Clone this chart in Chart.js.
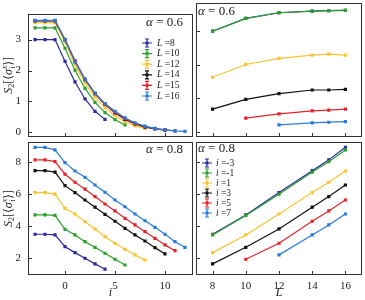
<!DOCTYPE html>
<html>
<head>
<meta charset="utf-8">
<script src="https://cdn.jsdelivr.net/npm/chart.js@4.4.1/dist/chart.umd.min.js"></script>
<style>
  body { margin: 0; background: #fff; }
  .wrap { position: relative; width: 365px; height: 300px; }
  .wrap canvas { position: absolute; left: 0; top: 0; }
</style>
</head>
<body>
<div class="wrap">
  <canvas id="tl" width="365" height="300"></canvas>
  <canvas id="tr" width="365" height="300"></canvas>
  <canvas id="bl" width="365" height="300"></canvas>
  <canvas id="br" width="365" height="300"></canvas>
</div>
<script>
// site index i and system sizes L
const siteIdx = [-3, -2, -1, 0, 1, 2, 3, 4, 5, 6, 7, 8, 9, 10, 11, 12];
const sysSizes = [8, 10, 12, 14, 15, 16];
const sitesShown = [-3, -1, 1, 3, 5, 7];

const sizeLabels = ['8', '10', '12', '14', '15', '16'];
const siteLabels = ['-3', '-1', '1', '3', '5', '7'];

// tick values
const iTicks = [0, 5, 10];
const lTicks = [8, 10, 12, 14, 16];
const yTicksTop = [0, 1, 2, 3];
const yTicksBottom = [2, 4, 6, 8];

// alpha = 0.6, S2 vs i, one array per L
const a06_L8  = [3.00, 3.00, 3.00, 2.30, 1.63, 1.08, 0.68, 0.42];
const a06_L10 = [3.38, 3.38, 3.38, 2.72, 2.01, 1.42, 0.97, 0.64, 0.41, 0.24];
const a06_L12 = [3.55, 3.55, 3.55, 2.92, 2.19, 1.60, 1.14, 0.80, 0.54, 0.34, 0.21, 0.13];
const a06_L14 = [3.60, 3.60, 3.60, 3.00, 2.29, 1.70, 1.25, 0.90, 0.63, 0.42, 0.27, 0.17, 0.11, 0.07];
const a06_L15 = [3.61, 3.61, 3.61, 3.00, 2.32, 1.72, 1.25, 0.91, 0.65, 0.44, 0.29, 0.19, 0.12, 0.08, 0.05];
const a06_L16 = [3.62, 3.62, 3.62, 3.00, 2.29, 1.72, 1.27, 0.93, 0.68, 0.47, 0.31, 0.20, 0.13, 0.08, 0.05, 0.03];

// alpha = 0.6, S2 vs L, one array per i
const a06_im3 = [3.00, 3.38, 3.55, 3.60, 3.61, 3.62];
const a06_im1 = [3.00, 3.38, 3.55, 3.60, 3.61, 3.62];
const a06_i1  = [1.63, 2.01, 2.19, 2.29, 2.32, 2.29];
const a06_i3  = [0.68, 0.97, 1.14, 1.25, 1.25, 1.27];
const a06_i5  = [null, 0.41, 0.54, 0.63, 0.65, 0.68];
const a06_i7  = [null, null, 0.21, 0.27, 0.29, 0.31];

// alpha = 0.8, S2 vs i, one array per L
const a08_L8  = [3.49, 3.49, 3.45, 2.72, 2.35, 2.00, 1.65, 1.32];
const a08_L10 = [4.69, 4.69, 4.66, 3.80, 3.45, 3.03, 2.68, 2.31, 1.94, 1.58];
const a08_L12 = [6.08, 6.08, 5.98, 5.10, 4.75, 4.27, 3.82, 3.34, 2.93, 2.56, 2.21, 1.89];
const a08_L14 = [7.44, 7.44, 7.35, 6.51, 6.08, 5.62, 5.17, 4.73, 4.30, 3.86, 3.45, 3.07, 2.66, 2.27];
const a08_L15 = [8.11, 8.11, 8.00, 7.22, 6.72, 6.29, 5.83, 5.37, 4.94, 4.48, 4.07, 3.65, 3.24, 2.83, 2.47];
const a08_L16 = [8.89, 8.89, 8.73, 7.94, 7.42, 7.03, 6.55, 6.10, 5.62, 5.20, 4.75, 4.33, 3.92, 3.49, 3.03, 2.68];

// alpha = 0.8, S2 vs L, one array per i
const a08_im3 = [3.49, 4.69, 6.08, 7.44, 8.11, 8.89];
const a08_im1 = [3.45, 4.66, 5.98, 7.35, 8.00, 8.73];
const a08_i1  = [2.35, 3.45, 4.75, 6.08, 6.72, 7.42];
const a08_i3  = [1.65, 2.68, 3.82, 5.17, 5.83, 6.55];
const a08_i5  = [null, 1.94, 2.93, 4.30, 4.94, 5.62];
const a08_i7  = [null, null, 2.21, 3.45, 4.07, 4.75];

const colors = ['#2b2b9f', '#2ca02c', '#f7c531', '#111111', '#e3242b', '#2b7bd9'];
const SERIF = '"Liberation Serif", "DejaVu Serif", serif';

function toPoints(xs, ys) {
    return ys.map((y, k) => ({ x: xs[k], y: y })).filter(p => p.y !== null);
}

// italic symbol followed by upright rest
function drawMathText(ctx, sym, rest, x, y, size, align) {
    ctx.font = `italic ${size}px ${SERIF}`;
    const w1 = ctx.measureText(sym).width;
    ctx.font = `${size}px ${SERIF}`;
    const w2 = ctx.measureText(rest).width;
    const x0 = align === 'right' ? x - w1 - w2 : x;
    ctx.textBaseline = 'middle';
    ctx.textAlign = 'left';
    ctx.font = `italic ${size}px ${SERIF}`;
    ctx.fillText(sym, x0, y);
    ctx.font = `${size}px ${SERIF}`;
    ctx.fillText(rest, x0 + w1, y);
}

function drawYLabel(ctx, cx, cy) {
    const big = 12, small = 8;
    const parts = [
        { t: 'S', f: `italic ${big}px ${SERIF}`, dy: 0 },
        { t: '2', f: `${small}px ${SERIF}`, dy: 3 },
        { t: '[\u27E8', f: `${big}px ${SERIF}`, dy: 0 },
        { t: '\u03C3', f: `italic ${big}px ${SERIF}`, dy: 0 },
        { t: 'x', f: `italic ${small}px ${SERIF}`, dy: -4, stack: 'i' },
        { t: '\u27E9]', f: `${big}px ${SERIF}`, dy: 0 }
    ];
    let total = 0;
    parts.forEach(p => { ctx.font = p.f; p.w = ctx.measureText(p.t).width; total += p.w; });
    ctx.save();
    ctx.translate(cx, cy);
    ctx.rotate(-Math.PI / 2);
    ctx.fillStyle = '#222';
    ctx.textBaseline = 'middle';
    ctx.textAlign = 'left';
    let x = -total / 2;
    parts.forEach(p => {
        ctx.font = p.f;
        ctx.fillText(p.t, x, p.dy);
        if (p.stack) ctx.fillText(p.stack, x + 0.5, 4);
        x += p.w;
    });
    ctx.restore();
}

function panelPlugin(opts) {
    return {
        id: 'panel',
        afterDraw(chart) {
            const ctx = chart.ctx;
            const a = chart.chartArea;
            const xs = chart.scales.x, ys = chart.scales.y;
            ctx.save();
            ctx.strokeStyle = '#333';
            ctx.lineWidth = 1;
            ctx.strokeRect(Math.round(a.left) + 0.5, Math.round(a.top) + 0.5,
                Math.round(a.right - a.left) - 1, Math.round(a.bottom - a.top) - 1);
            // inward ticks
            ctx.beginPath();
            xs.ticks.forEach(t => {
                const px = Math.round(xs.getPixelForValue(t.value)) + 0.5;
                ctx.moveTo(px, a.bottom);
                ctx.lineTo(px, a.bottom - 4);
            });
            ys.ticks.forEach(t => {
                const py = Math.round(ys.getPixelForValue(t.value)) + 0.5;
                ctx.moveTo(a.left, py);
                ctx.lineTo(a.left + 4, py);
            });
            ctx.stroke();

            ctx.fillStyle = '#222';
            if (opts.alphaRight) drawMathText(ctx, '\u03B1', ' = ' + opts.alpha, a.right - 10, a.top + opts.alphaDy, 13, 'right');
            else drawMathText(ctx, '\u03B1', ' = ' + opts.alpha, a.left + 2, a.top + opts.alphaDy, 13, 'left');

            if (opts.ylabel) drawYLabel(ctx, 9, (a.top + a.bottom) / 2);

            if (opts.legend) {
                const lg = opts.legend;
                lg.labels.forEach((lab, k) => {
                    const cy = lg.y + k * lg.step;
                    const cx = lg.x;
                    ctx.strokeStyle = colors[k];
                    ctx.fillStyle = colors[k];
                    ctx.lineWidth = 1.2;
                    ctx.beginPath();
                    ctx.moveTo(cx - 5, cy); ctx.lineTo(cx + 5, cy);
                    ctx.moveTo(cx, cy - 4); ctx.lineTo(cx, cy + 4);
                    ctx.moveTo(cx - 2, cy - 4); ctx.lineTo(cx + 2, cy - 4);
                    ctx.moveTo(cx - 2, cy + 4); ctx.lineTo(cx + 2, cy + 4);
                    ctx.stroke();
                    ctx.fillRect(cx - 1.5, cy - 1.5, 3, 3);
                    ctx.fillStyle = '#222';
                    drawMathText(ctx, lg.sym, ' =' + lab, lg.textX, cy, 9.5, 'left');
                });
            }
            ctx.restore();
        }
    };
}

function makePanel(id, cfg) {
    const box = cfg.box; // left, top, right, bottom of the plot frame
    const tickFont = { family: SERIF, size: 11 };
    return new Chart(document.getElementById(id), {
        type: 'line',
        data: {
            datasets: cfg.series.map((ys, k) => ({
                data: toPoints(cfg.xs, ys),
                borderColor: colors[k],
                backgroundColor: colors[k],
                borderWidth: 1.2,
                pointRadius: 1.4,
                pointHoverRadius: 1.4,
                pointStyle: 'rect',
                tension: 0,
                order: 10 - k
            }))
        },
        options: {
            responsive: false,
            animation: false,
            events: [],
            layout: { padding: { left: 0, top: box[1], right: 365 - box[2], bottom: 0 } },
            plugins: { legend: { display: false }, tooltip: { enabled: false } },
            scales: {
                x: {
                    type: 'linear',
                    min: cfg.xMin, max: cfg.xMax,
                    grid: { display: false, drawTicks: false },
                    border: { display: false },
                    afterBuildTicks: s => { s.ticks = cfg.xTicks.map(v => ({ value: v })); },
                    ticks: {
                        autoSkip: false, display: cfg.showX, maxRotation: 0, padding: 5,
                        color: '#222', font: tickFont
                    },
                    title: {
                        display: cfg.showX, text: cfg.xTitle, color: '#222',
                        font: { family: SERIF, size: 12, style: 'italic' },
                        padding: { top: 0, bottom: 0 }
                    },
                    afterFit: s => { s.height = 300 - box[3]; }
                },
                y: {
                    min: cfg.yMin, max: cfg.yMax,
                    grid: { display: false, drawTicks: false },
                    border: { display: false },
                    afterBuildTicks: s => { s.ticks = cfg.yTicks.map(v => ({ value: v })); },
                    ticks: {
                        autoSkip: false, display: cfg.showY, padding: 7,
                        color: '#222', font: tickFont
                    },
                    afterFit: s => { s.width = box[0]; }
                }
            }
        },
        plugins: [panelPlugin(cfg.deco)]
    });
}

makePanel('tl', {
    box: [28, 3, 193, 137],
    xs: siteIdx,
    series: [a06_L8, a06_L10, a06_L12, a06_L14, a06_L15, a06_L16],
    xMin: -3.7, xMax: 12.8, xTicks: iTicks, showX: false, xTitle: 'i',
    yMin: -0.15, yMax: 3.84, yTicks: yTicksTop, showY: true,
    deco: { alpha: '0.6', alphaRight: true, alphaDy: 9, ylabel: true,
            legend: { labels: sizeLabels, sym: 'L', x: 147, textX: 157, y: 43, step: 10.6 } }
});

makePanel('tr', {
    box: [196, 3, 362, 137],
    xs: sysSizes,
    series: [a06_im3, a06_im1, a06_i1, a06_i3, a06_i5, a06_i7],
    xMin: 7, xMax: 17, xTicks: lTicks, showX: false, xTitle: 'L',
    yMin: -0.15, yMax: 3.84, yTicks: yTicksTop, showY: false,
    deco: { alpha: '0.6', alphaRight: false, alphaDy: 9 }
});

makePanel('bl', {
    box: [28, 142, 193, 275],
    xs: siteIdx,
    series: [a08_L8, a08_L10, a08_L12, a08_L14, a08_L15, a08_L16],
    xMin: -3.7, xMax: 12.8, xTicks: iTicks, showX: true, xTitle: 'i',
    yMin: 0.96, yMax: 9.22, yTicks: yTicksBottom, showY: true,
    deco: { alpha: '0.8', alphaRight: true, alphaDy: 8, ylabel: true }
});

makePanel('br', {
    box: [196, 142, 362, 275],
    xs: sysSizes,
    series: [a08_im3, a08_im1, a08_i1, a08_i3, a08_i5, a08_i7],
    xMin: 7, xMax: 17, xTicks: lTicks, showX: true, xTitle: 'L',
    yMin: 0.96, yMax: 9.22, yTicks: yTicksBottom, showY: false,
    deco: { alpha: '0.8', alphaRight: false, alphaDy: 7,
            legend: { labels: siteLabels, sym: 'i', x: 207, textX: 216, y: 163, step: 10 } }
});
</script>
</body>
</html>
